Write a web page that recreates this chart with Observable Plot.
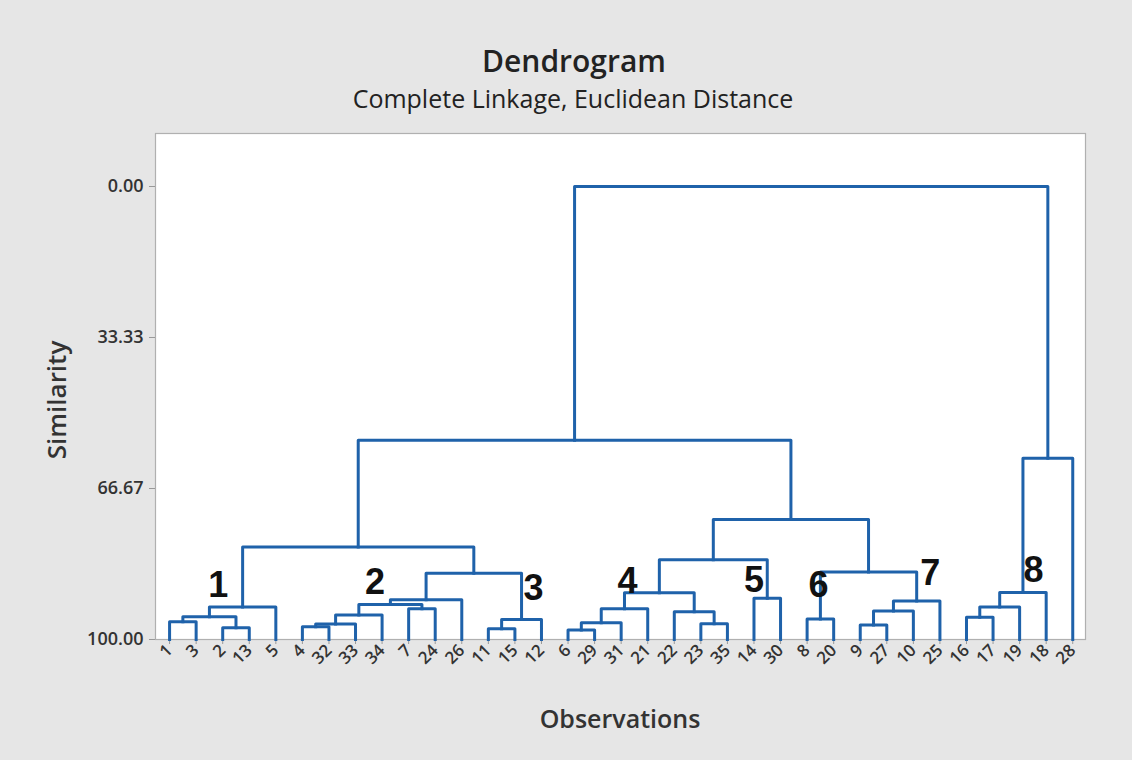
<!DOCTYPE html>
<html>
<head>
<meta charset="utf-8">
<script src="https://cdn.jsdelivr.net/npm/d3@7"></script>
<script src="https://cdn.jsdelivr.net/npm/@observablehq/plot@0.6"></script>
<style>
  html, body { margin: 0; padding: 0; background: #e6e6e6; }
  #wrap { position: relative; width: 1132px; height: 760px; background: #e6e6e6; overflow: hidden; font-family: "Open Sans", "Noto Sans", sans-serif; color: #222; }
  #chart { position: absolute; left: 0; top: 0; }
  .t { position: absolute; white-space: nowrap; }
  #title { left: 574px; top: 60px; transform: translate(-50%, -50%); font-size: 30px; font-weight: 600; }
  #subtitle { left: 573px; top: 98px; transform: translate(-50%, -50%); font-size: 25px; }
  #xlabel { left: 620px; top: 718px; transform: translate(-50%, -50%); font-size: 25px; font-weight: 600; color: #333; }
  #ylabel { left: 56px; top: 400px; transform: translate(-50%, -50%) rotate(-90deg); font-size: 26px; font-weight: 600; color: #333; }
</style>
</head>
<body>
<div id="wrap">
  <div id="chart"></div>
  <div class="t" id="title">Dendrogram</div>
  <div class="t" id="subtitle">Complete Linkage, Euclidean Distance</div>
  <div class="t" id="xlabel">Observations</div>
  <div class="t" id="ylabel">Similarity</div>
</div>
<script>
// Leaf order along the x axis
const leaves = ["1","3","2","13","5","4","32","33","34","7","24","26","11","15","12",
  "6","29","31","21","22","23","35","14","30","8","20","9","27","10","25",
  "16","17","19","18","28"];

// Merge steps: left member, right member, similarity level ("#k" = result of merge k)
const joinLeft  = ["1","2","#0","#2","4","#4","#5","7","#6","#8","11","#10","#9","#3",
  "6","#14","#15","23","22","#16","14","#19","8","9","#23","#24","#22","#21","#13",
  "16","#29","#30","#31","#28"];
const joinRight = ["3","13","#1","5","32","33","34","24","#7","26","15","12","#11","#12",
  "29","31","21","35","#17","#18","30","#20","20","27","10","25","#25","#26","#27",
  "17","19","18","28","#32"];
const joinSim   = [96.1,97.4,95.0,92.8,97.2,96.6,94.6,93.2,92.3,91.2,97.6,95.6,85.4,79.6,
  97.9,96.3,93.2,96.5,93.9,89.7,90.9,82.4,95.5,96.8,93.7,91.5,85.1,73.5,56.0,
  95.1,92.8,89.6,60.0,0.0];

// Y axis ticks
const yTicks = [0, 33.33, 66.67, 100];

// Cluster number annotations (x in leaf-position units, y in similarity units)
const clusterNames = ["1","2","3","4","5","6","7","8"];
const clusterAtX   = [1.83, 7.73, 13.7, 17.24, 22.0, 24.43, 28.64, 32.52];
const clusterAtY   = [88.1, 87.4, 88.7, 87.1, 86.9, 88.0, 85.4, 84.7];

// Build the dendrogram geometry from the merge table
const leafPos = new Map(leaves.map((l, i) => [l, {x: i, y: 100}]));
const nodes = [];
const ref = id => id.startsWith("#") ? nodes[+id.slice(1)] : leafPos.get(id);
const segs = [];
joinSim.forEach((s, k) => {
  const a = ref(joinLeft[k]), b = ref(joinRight[k]);
  segs.push({k, x: a.x, y: a.y}, {k, x: a.x, y: s}, {k, x: b.x, y: s}, {k, x: b.x, y: b.y});
  nodes[k] = {x: (a.x + b.x) / 2, y: s};
});
const labels = clusterNames.map((n, i) => ({n, x: clusterAtX[i], y: clusterAtY[i]}));

const plot = Plot.plot({
  width: 1132,
  height: 760,
  marginTop: 133,
  marginBottom: 121,
  marginLeft: 155,
  marginRight: 47,
  style: {background: "transparent", fontFamily: "Open Sans, Noto Sans, sans-serif", color: "#333"},
  x: {domain: [-0.53, leaves.length - 1 + 0.48]},
  y: {domain: [100, -11.7]},
  marks: [
    Plot.frame({fill: "white", stroke: "#b0b0b0", strokeWidth: 1.2}),
    Plot.axisX(d3.range(leaves.length), {
      tickFormat: i => leaves[i], tickRotate: -45, tickSize: 5, tickPadding: 3,
      fontSize: 17, fontWeight: 600, stroke: "#999", fill: "#333", label: null
    }),
    Plot.axisY(yTicks, {
      tickFormat: d => d.toFixed(2), tickSize: 6, tickPadding: 6,
      fontSize: 18, fontWeight: 600, stroke: "#999", fill: "#333", label: null
    }),
    Plot.line(segs, {x: "x", y: "y", z: "k", stroke: "#1f62aa", strokeWidth: 3,
      strokeLinejoin: "round", strokeLinecap: "square"}),
    Plot.text(labels, {x: "x", y: "y", text: "n", fontSize: 36, fontWeight: "bold",
      fontFamily: "Liberation Sans, Arial, sans-serif", fill: "#111"})
  ]
});
document.getElementById("chart").appendChild(plot);
</script>
</body>
</html>
